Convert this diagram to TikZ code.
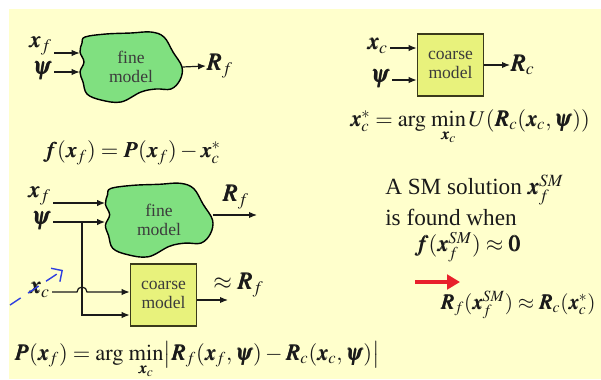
\documentclass[tikz,border=0pt]{standalone}
\usepackage{mathptmx}
\usepackage{bm}
\usepackage[no-math]{fontspec}
\setmainfont{Liberation Serif}
\usetikzlibrary{positioning,arrows.meta,calc}
\definecolor{uPage}{HTML}{FFFFCC}
\definecolor{uFine}{HTML}{80E080}
\definecolor{uCoarse}{HTML}{E8F27C}
\definecolor{uEdge}{HTML}{3A3A1A}
\definecolor{uInk}{HTML}{1A1A1A}
\definecolor{uHint}{HTML}{2F3FE0}
\definecolor{uGo}{HTML}{E8202C}
\tikzset{
  blk/.style={align=center, font=\fontsize{12.5}{13}\selectfont, inner sep=0pt,
              text=uInk!85},
  coarse/.style={blk, draw=uEdge, line width=0.4mm, fill=uCoarse,
                 minimum width=16.5mm, minimum height=15.5mm},
  fine/.style={blk, minimum width=25.5mm, minimum height=17mm},
  blob/.style={draw=black, line width=0.35mm, fill=uFine},
  flow/.style={-{Latex[length=2mm,width=1.6mm]}, line width=0.3mm, draw=uInk},
  wire/.style={line width=0.3mm, draw=uInk},
  lbl/.style={font=\fontsize{17}{19}\selectfont, inner sep=0pt, text=uInk},
  eqn/.style={font=\fontsize{16}{19}\selectfont, inner sep=1pt, text=uInk},
  note/.style={font=\fontsize{16.5}{19}\selectfont, align=left, inner sep=0pt,
               text=uInk},
}
% the wobbly outline of a fine model, drawn round a centre point
\newcommand{\fineblob}[2]{%
  \draw[blob, shift={(#1)}, scale=#2] plot[smooth cycle, tension=0.6]
    coordinates {(-46,-30) (-25,-33) (0,-34) (20,-35) (33,-30) (42,-15)
      (51,0) (49,13) (40,22) (25,22) (10,25) (-10,35) (-30,33) (-44,27)
      (-48,15) (-51,5) (-47,-5) (-51,-15) (-49,-24)};}
\newcommand{\bx}{\bm{x}}
\newcommand{\bpsi}{\bm{\psi}}

\begin{document}
\begin{tikzpicture}[x=0.25mm, y=-0.25mm]

\useasboundingbox (0,0) rectangle (601,379);
\fill[white] (0,0) rectangle (601,379);
\fill[uPage] (9,9) rectangle (601,379);

%% ── fine model on its own ────────────────────────────────────────────────
\coordinate (fine1c) at (131,67);
\fineblob{fine1c}{1}
\node[fine] (fine1) at (fine1c) {fine\\model};
\node[lbl, anchor=east] (xf1) at (52,46) {$\bx_f$};
\node[lbl, anchor=east] (psi1) at (52,71) {$\bpsi$};
\node[lbl, anchor=west] (Rf1) at (206,66) {$\bm{R}_f$};
\draw[flow] ([xshift=0.5mm]xf1.east |- 0,53) -- (fine1.west |- 0,53);
\draw[flow] ([xshift=0.5mm]psi1.east |- 0,72) -- (fine1.west |- 0,72);
\draw[flow] (fine1.east) -- (Rf1.west);

%% ── coarse model on its own ──────────────────────────────────────────────
\node[coarse] (coarse1) at (450.5,65) {coarse\\model};
\node[lbl, anchor=east] (xc1) at (388,46) {$\bx_c$};
\node[lbl, anchor=east] (psi2) at (390,79) {$\bpsi$};
\node[lbl, anchor=west] (Rc1) at (510,65) {$\bm{R}_c$};
\draw[flow] ([xshift=0.5mm]xc1.east |- 0,48) -- (coarse1.west |- 0,48);
\draw[flow] ([xshift=0.5mm]psi2.east |- 0,80) -- (coarse1.west |- 0,80);
\draw[flow] (coarse1.east) -- (Rc1.west);

\node[eqn] (opt) at (470,127)
  {$\bx_c^{*} = \mathrm{arg}\,\min\limits_{\bx_c} U(\bm{R}_c(\bx_c,\bpsi))$};
\node[eqn] (fdef) at (132,153)
  {$\bm{f}(\bx_f) = \bm{P}(\bx_f) - \bx_c^{*}$};

%% ── both models side by side ─────────────────────────────────────────────
\coordinate (fine2c) at (159,220);
\fineblob{fine2c}{1.05}
\node[fine, minimum width=26.8mm, minimum height=18mm] (fine2) at (fine2c)
  {fine\\model};
\node[coarse] (coarse2) at (163.5,295) {coarse\\model};
\node[lbl, anchor=east] (xf2) at (51,196) {$\bx_f$};
\node[lbl, anchor=east] (psi3) at (51,221) {$\bpsi$};
\node[lbl, anchor=east] (xc2) at (50,290) {$\bx_c$};
\node[lbl, anchor=west] (Rf2) at (222,197) {$\bm{R}_f$};
\node[lbl, anchor=west] (Rf3) at (213,285) {$\approx\bm{R}_f$};
\coordinate (tap) at (82,222);
\coordinate (Rf2end) at (257,215);
\coordinate (Rf3end) at (228,300);

\draw[flow] ([xshift=0.5mm]xf2.east |- 0,203) -- (fine2.west |- 0,203);
\draw[flow] ([xshift=0.5mm]psi3.east |- tap) -- (fine2.west |- tap);
\draw[flow] (tap) |- (coarse2.west |- 0,315);
\draw[flow] ([xshift=0.5mm]xc2.east |- 0,292) -- ($(tap |- 0,292)+(-5,0)$)
  arc[start angle=180, end angle=360, radius=5] -- (coarse2.west |- 0,292);
\draw[flow] (fine2.east |- Rf2end) -- (Rf2end);
\draw[flow] (coarse2.east |- Rf3end) -- (Rf3end);

%% hint that x_c is moved
\coordinate (hintA) at (10,305);
\coordinate (hintB) at (63,270);
\draw[-{Straight Barb[length=2mm]}, uHint, line width=0.35mm,
      dash pattern=on 3.2mm off 2.2mm] (hintA) -- (hintB);

\node[eqn, inner sep=0pt] (pdef) at (197,360)
  {$\bm{P}(\bx_f) = \mathrm{arg}\,\min\limits_{\bx_c}
    \bigl|\bm{R}_f(\bx_f,\bpsi) - \bm{R}_c(\bx_c,\bpsi)\bigr|$};

%% ── the stopping rule ────────────────────────────────────────────────────
\node[note, anchor=west] (sm1) at (385,190) {A SM solution $\bx_f^{SM}$};
\node[note, anchor=west] (sm2) at (385,217) {is found when};
\node[eqn, anchor=west] (sm3) at (413,247) {$\bm{f}(\bx_f^{SM}) \approx \bm{0}$};
\node[eqn, anchor=west, font=\fontsize{15}{18}\selectfont] (sm4) at (439,305)
  {$\bm{R}_f(\bx_f^{SM}) \approx \bm{R}_c(\bx_c^{*})$};
\coordinate (goA) at (415,282);
\coordinate (goB) at (460,282);
\draw[-{Triangle[length=3.2mm,width=3.6mm]}, uGo, line width=1.1mm]
  (goA) -- (goB);

\end{tikzpicture}
\end{document}
